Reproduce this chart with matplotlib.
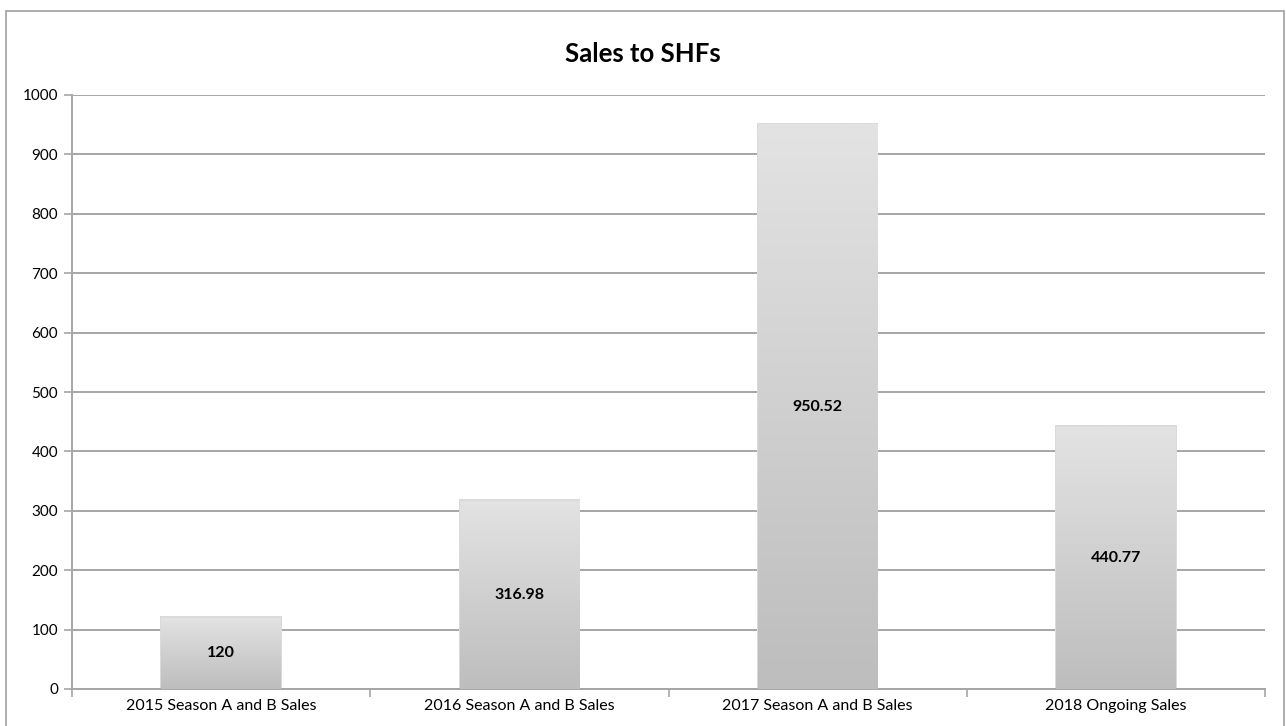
import numpy as np
import matplotlib.pyplot as plt
from matplotlib.patches import Rectangle

plt.rcParams['font.family'] = ['Lato', 'DejaVu Sans']

categories = ['2015 Season A and B Sales', '2016 Season A and B Sales',
              '2017 Season A and B Sales', '2018 Ongoing Sales']
sales = [120, 316.98, 950.52, 440.77]
value_labels = ['120', '316.98', '950.52', '440.77']
title = 'Sales to SHFs'

W, H = 1286, 726
fig = plt.figure(figsize=(W / 100, H / 100), dpi=100)
ax = fig.add_axes([72 / W, 37 / H, (1265 - 72) / W, (689 - 95) / H])

grid_col = '#a6a6a6'
x = np.arange(len(categories))
bars = ax.bar(x, sales, width=0.4, color='none', edgecolor='none', zorder=3)

# vertical gradient fill, light at top, darker at bottom
grad = np.linspace(0, 1, 256).reshape(-1, 1)
cmap = plt.matplotlib.colors.LinearSegmentedColormap.from_list('g', ['#bdbdbd', '#e3e3e3'])
for b in bars:
    x0, y0 = b.get_x(), b.get_y()
    w, h = b.get_width(), b.get_height()
    # soft shadow
    sh = Rectangle((x0 - 0.004, y0), w + 0.008, h + 3, facecolor='#dadada',
                   edgecolor='none', zorder=2.5)
    ax.add_patch(sh)
    im = ax.imshow(grad, extent=[x0, x0 + w, y0, y0 + h], origin='lower',
                   cmap=cmap, aspect='auto', zorder=3)
    im.set_clip_path(b)

for xi, v, lab in zip(x, sales, value_labels):
    ax.text(xi, v / 2, lab, ha='center', va='center', fontsize=11.5,
            fontweight='bold', color='black', zorder=4)

ax.set_xlim(-0.5, len(categories) - 0.5)
ax.set_ylim(0, 1000)
ax.set_yticks(np.arange(0, 1001, 100))
ax.yaxis.grid(True, color=grid_col, linewidth=1.4)
ax.set_axisbelow(True)

ax.set_xticks(x)
ax.set_xticklabels(categories, fontsize=11.5)
ax.tick_params(axis='x', length=0, pad=7)
ax.set_xticks(np.arange(-0.5, len(categories), 1), minor=True)
ax.tick_params(axis='x', which='minor', length=6, color=grid_col, width=1.2)
ax.tick_params(axis='y', length=6, color=grid_col, width=1.2, labelsize=11, pad=4)

for s in ['top', 'right']:
    ax.spines[s].set_visible(False)
for s in ['left', 'bottom']:
    ax.spines[s].set_color(grid_col)
    ax.spines[s].set_linewidth(1.4)

fig.text(0.5, (H - 54) / H, title, ha='center', va='center', fontsize=18.5,
         fontweight='bold')

# outer chart border
border = Rectangle((6 / W, -0.01), (1284 - 6) / W, (H - 11) / H + 0.01,
                   transform=fig.transFigure, fill=False, edgecolor='#a0a0a0',
                   linewidth=1.2)
fig.patches.append(border)

fig.savefig('out.png', dpi=100, facecolor='white')
